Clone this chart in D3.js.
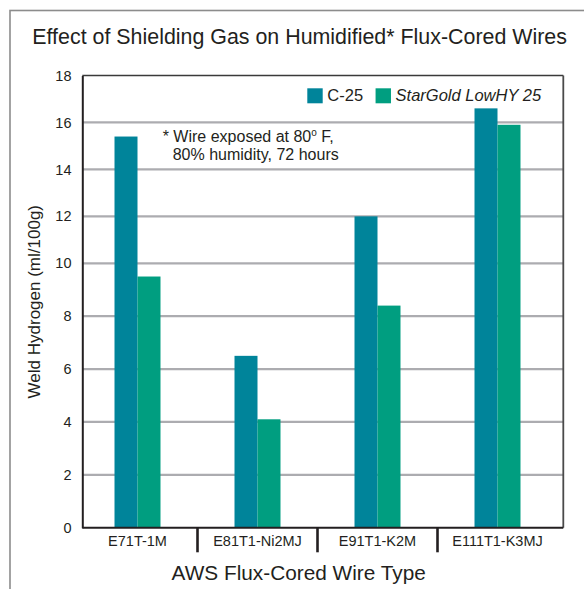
<!DOCTYPE html>
<html>
<head>
<meta charset="utf-8">
<script src="https://cdn.jsdelivr.net/npm/d3@7/dist/d3.min.js"></script>
<style>
  html, body { margin: 0; padding: 0; background: #fff; }
  svg { display: block; }
  text { font-family: "Liberation Sans", Arial, Helvetica, sans-serif; fill: #231f20; }
</style>
</head>
<body>
<svg id="chart" width="584" height="589"></svg>
<script>
// ---- data ----
const categories = ["E71T-1M", "E81T1-Ni2MJ", "E91T1-K2M", "E111T1-K3MJ"];
const seriesNames = ["C-25", "StarGold LowHY 25"];
const c25Values = [15.4, 6.5, 12.0, 16.6];
const starGoldValues = [9.5, 4.1, 8.4, 15.9];
const yTickValues = [0, 2, 4, 6, 8, 10, 12, 14, 16, 18];
const titleText = "Effect of Shielding Gas on Humidified* Flux-Cored Wires";
const yAxisTitle = "Weld Hydrogen (ml/100g)";
const xAxisTitle = "AWS Flux-Cored Wire Type";
const noteLine1 = ["* Wire exposed at 80", "o", " F,"];
const noteLine2 = "80% humidity, 72 hours";

// ---- layout ----
const svg = d3.select("#chart");
const frame = { left: 82.3, right: 563.3, top: 75.5, bottom: 527.7 };
const colors = { "C-25": "#00849a", "StarGold LowHY 25": "#009e80" };

// outer border
svg.append("rect")
  .attr("x", 10).attr("y", 10.5).attr("width", 600).attr("height", 600)
  .attr("fill", "none").attr("stroke", "#8c8c8c").attr("stroke-width", 1.6);

// title
svg.append("text")
  .attr("x", 32.3).attr("y", 44.3)
  .style("font-size", "21.4px")
  .text(titleText);

// scales
const y = d3.scaleLinear()
  .domain([0, 10, 18])
  .range([frame.bottom, frame.bottom - 0.5847 * (frame.bottom - frame.top), frame.top]);

const pad = 0.6167;
const x = d3.scaleBand()
  .domain(categories)
  .range([frame.left - 4.8, frame.right - 5.8])
  .paddingInner(pad)
  .paddingOuter(pad / 2);

const xInner = d3.scaleBand()
  .domain(seriesNames)
  .range([0, x.bandwidth()]);

// gridlines
svg.append("g")
  .selectAll("line")
  .data(yTickValues.filter(v => v > 0 && v < 18))
  .join("line")
  .attr("x1", frame.left).attr("x2", frame.right)
  .attr("y1", d => y(d)).attr("y2", d => y(d))
  .attr("stroke", "#acacb0").attr("stroke-width", 2.2);

// bars
const rows = categories.map((c, i) => ({
  category: c,
  values: [
    { series: seriesNames[0], value: c25Values[i] },
    { series: seriesNames[1], value: starGoldValues[i] }
  ]
}));

svg.append("g")
  .selectAll("g")
  .data(rows)
  .join("g")
  .attr("transform", d => `translate(${x(d.category)},0)`)
  .selectAll("rect")
  .data(d => d.values)
  .join("rect")
  .attr("x", d => xInner(d.series))
  .attr("width", xInner.bandwidth())
  .attr("y", d => y(d.value))
  .attr("height", d => y(0) - y(d.value))
  .attr("fill", d => colors[d.series]);

// frame: top and right thinner
svg.append("line")
  .attr("x1", frame.left).attr("x2", frame.right)
  .attr("y1", frame.top).attr("y2", frame.top)
  .attr("stroke", "#3a3a3a").attr("stroke-width", 1.5);
svg.append("line")
  .attr("x1", frame.right).attr("x2", frame.right)
  .attr("y1", frame.top).attr("y2", frame.bottom)
  .attr("stroke", "#4a4a4a").attr("stroke-width", 1.8);

// y axis
const yAxis = d3.axisLeft(y).tickValues(yTickValues).tickSize(0).tickPadding(10.8).tickFormat(d3.format("d"));
const gy = svg.append("g").attr("transform", `translate(${frame.left},0)`).call(yAxis);
gy.select(".domain").attr("stroke", "#231f20").attr("stroke-width", 2);
gy.selectAll(".tick text")
  .style("font-size", "14.5px")
  .style("font-family", '"Liberation Sans", Arial, sans-serif')
  .attr("fill", "#231f20");

// x axis
const xAxis = d3.axisBottom(x).tickSize(0).tickPadding(8.5);
const gx = svg.append("g").attr("transform", `translate(0,${frame.bottom})`).call(xAxis);
gx.select(".domain").attr("d", `M${frame.left},0H${frame.right}`)
  .attr("stroke", "#231f20").attr("stroke-width", 2);
gx.selectAll(".tick text")
  .style("font-size", "14.5px")
  .style("font-family", '"Liberation Sans", Arial, sans-serif')
  .attr("fill", "#231f20");

// category separators
const step = x.step();
svg.append("g")
  .selectAll("line")
  .data(categories.slice(1))
  .join("line")
  .attr("x1", d => x(d) + x.bandwidth() / 2 - step / 2)
  .attr("x2", d => x(d) + x.bandwidth() / 2 - step / 2)
  .attr("y1", frame.bottom).attr("y2", frame.bottom + 24.6)
  .attr("stroke", "#231f20").attr("stroke-width", 2.6);

// axis titles
svg.append("text")
  .attr("transform", `translate(39.5,301.7) rotate(-90)`)
  .attr("text-anchor", "middle")
  .style("font-size", "17px")
  .text(yAxisTitle);

svg.append("text")
  .attr("x", 298.7).attr("y", 579.5)
  .attr("text-anchor", "middle")
  .style("font-size", "20.8px")
  .text(xAxisTitle);

// legend
const legend = svg.append("g");
let lx = 307.3;
seriesNames.forEach((name, i) => {
  legend.append("rect")
    .attr("x", lx).attr("y", 88.3).attr("width", 15.4).attr("height", 15)
    .attr("fill", colors[name]);
  const t = legend.append("text")
    .attr("x", lx + 20).attr("y", 101.3)
    .style("font-size", "16.5px")
    .style("font-style", i === 1 ? "italic" : "normal")
    .text(name);
  lx = lx + 20 + t.node().getComputedTextLength() + 12.5;
});

// note
const n1 = svg.append("text").attr("x", 162.7).attr("y", 142.3).style("font-size", "16px");
n1.append("tspan").text(noteLine1[0]);
n1.append("tspan").attr("dy", -6).style("font-size", "10px").text(noteLine1[1]);
n1.append("tspan").attr("dy", 6).text(noteLine1[2]);
svg.append("text").attr("x", 172.7).attr("y", 160).style("font-size", "16px").text(noteLine2);
</script>
</body>
</html>
